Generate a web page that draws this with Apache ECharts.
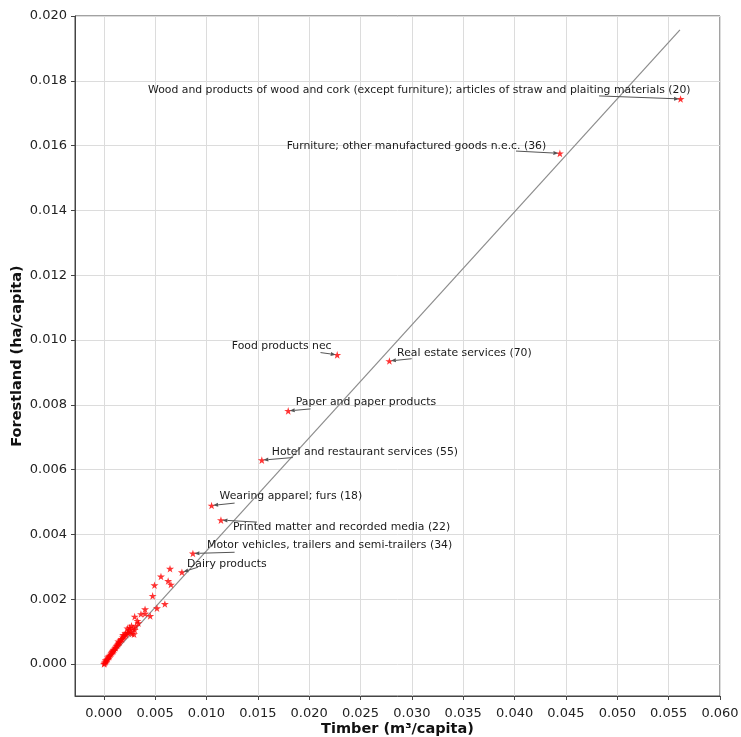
<!DOCTYPE html>
<html>
<head>
<meta charset="utf-8">
<script src="https://cdn.jsdelivr.net/npm/echarts@6/dist/echarts.min.js"></script>
<style>
  html, body { margin: 0; padding: 0; background: #fff; }
  #chart { width: 741px; height: 737px; }
</style>
</head>
<body>
<div id="chart"></div>
<script>
// Named sectors (timber m3/capita, forestland ha/capita)
const labeledNames = [
  'Wood and products of wood and cork (except furniture); articles of straw and plaiting materials (20)',
  'Furniture; other manufactured goods n.e.c. (36)',
  'Food products nec',
  'Real estate services (70)',
  'Paper and paper products',
  'Hotel and restaurant services (55)',
  'Wearing apparel; furs (18)',
  'Printed matter and recorded media (22)',
  'Motor vehicles, trailers and semi-trailers (34)',
  'Dairy products'
];
const labeledX = [0.05616, 0.04441, 0.02273, 0.02781, 0.01796, 0.01539, 0.01050, 0.01141, 0.00868, 0.00761];
const labeledY = [0.01744, 0.01576, 0.00954, 0.00935, 0.00781, 0.00629, 0.00489, 0.00444, 0.00341, 0.00283];

// Remaining sectors
const otherX = [
  0.00645, 0.00557, 0.00627, 0.00654, 0.00494, 0.00476, 0.00595, 0.00518, 0.00402, 0.00402,
  0.00362, 0.00452, 0.00301, 0.00328, 0.00337, 0.00311, 0.00295, 0.00260, 0.00285, 0.00301,
  0.00003, 0.00008, 0.00012, 0.00018, 0.00024, 0.00031, 0.00039, 0.00042, 0.00053, 0.00058,
  0.00066, 0.00075, 0.00081, 0.00088, 0.00095, 0.00102, 0.00110, 0.00117, 0.00124, 0.00131,
  0.00139, 0.00146, 0.00156, 0.00162, 0.00170, 0.00178, 0.00185, 0.00194, 0.00204, 0.00217,
  0.00229, 0.00236, 0.00275, 0.00020, 0.00050, 0.00093, 0.00142, 0.00188, 0.00210, 0.00245,
  0.00252, 0.00270, 0.00230
];
const otherY = [
  0.00294, 0.00270, 0.00256, 0.00245, 0.00243, 0.00210, 0.00185, 0.00172, 0.00169, 0.00155,
  0.00154, 0.00148, 0.00146, 0.00133, 0.00126, 0.00117, 0.00092, 0.00100, 0.00110, 0.00105,
  0.00000, 0.00002, 0.00005, 0.00007, 0.00011, 0.00013, 0.00015, 0.00020, 0.00022, 0.00026,
  0.00029, 0.00033, 0.00037, 0.00039, 0.00043, 0.00045, 0.00049, 0.00051, 0.00056, 0.00058,
  0.00062, 0.00065, 0.00067, 0.00073, 0.00076, 0.00077, 0.00082, 0.00085, 0.00088, 0.00090,
  0.00096, 0.00097, 0.00093, 0.00011, 0.00024, 0.00040, 0.00070, 0.00090, 0.00095, 0.00104,
  0.00112, 0.00118, 0.00110
];

// Reference line
const lineX = [0, 0.0561];
const lineY = [0, 0.01957];

// Tick labels
const xTicks = [0, 0.005, 0.010, 0.015, 0.020, 0.025, 0.030, 0.035, 0.040, 0.045, 0.050, 0.055, 0.060];
const yTicks = [0, 0.002, 0.004, 0.006, 0.008, 0.010, 0.012, 0.014, 0.016, 0.018, 0.020];

// Annotation placement in pixels relative to each named point:
// text = left/middle anchor of the caption, arrow = tail of the pointer
const annotLayout = [
  { text: [-532.5, -8.3], arrow: [-81.5, -3] },
  { text: [-273.2, -7.6], arrow: [-43.9, -2.3] },
  { text: [-105.4, -9], arrow: [-16.7, -2.3] },
  { text: [7.7, -8.3], arrow: [22.3, -2.3] },
  { text: [7.6, -8.3], arrow: [22.3, -2] },
  { text: [10, -8.3], arrow: [31, -2.6] },
  { text: [8, -9], arrow: [23, -2.4] },
  { text: [12, 6.7], arrow: [36, 2] },
  { text: [14.2, -8], arrow: [41.7, -1.2] },
  { text: [5, -8], arrow: [16, -5] }
];

const STAR = 'path://M50,0 L61,35 L98,35 L68,57 L79,91 L50,70 L21,91 L32,57 L2,35 L39,35 Z';
const FONT = 'DejaVu Sans';

const pointData = [];
for (let i = 0; i < otherX.length; i++) pointData.push([otherX[i], otherY[i]]);
for (let i = 0; i < labeledX.length; i++) pointData.push([labeledX[i], labeledY[i]]);

const annotData = labeledX.map((x, i) => [x, labeledY[i], i]);
const lineData = lineX.map((x, i) => [x, lineY[i]]);

const chart = echarts.init(document.getElementById('chart'), null, { renderer: 'canvas' });

const axisCommon = {
  type: 'value',
  axisLine: { show: true, onZero: false, lineStyle: { color: '#444', width: 1 } },
  splitLine: { show: true, lineStyle: { color: '#dcdcdc', width: 1 } },
  nameLocation: 'middle',
  nameMoveOverlap: false,
  nameTextStyle: { fontFamily: FONT, fontWeight: 'bold', fontSize: 14.5, color: '#111' }
};

chart.setOption({
  animation: false,
  backgroundColor: '#fff',
  grid: {
    left: 75, right: 21, top: 16, bottom: 41,
    outerBoundsMode: 'none',
    containLabel: false,
    show: true, borderColor: '#444', borderWidth: 1, backgroundColor: 'transparent'
  },
  xAxis: Object.assign({}, axisCommon, {
    min: -0.0028, max: 0.06,
    name: 'Timber (m³/capita)',
    nameGap: 26,
    axisTick: { show: true, length: 4, lineStyle: { color: '#444' }, customValues: xTicks },
    axisLabel: {
      customValues: xTicks, margin: 11,
      fontFamily: FONT, fontSize: 13, color: '#222',
      formatter: v => v.toFixed(3)
    }
  }),
  yAxis: Object.assign({}, axisCommon, {
    min: -0.00099, max: 0.02,
    name: 'Forestland (ha/capita)',
    nameGap: 50,
    axisTick: { show: true, length: 4, lineStyle: { color: '#444' }, customValues: yTicks },
    axisLabel: {
      customValues: yTicks, margin: 8,
      fontFamily: FONT, fontSize: 13, color: '#222',
      formatter: v => v.toFixed(3)
    }
  }),
  series: [
    {
      type: 'line',
      data: lineData,
      symbol: 'none',
      lineStyle: { color: '#8c8c8c', width: 1.2 },
      z: 2
    },
    {
      type: 'scatter',
      data: pointData,
      symbol: STAR,
      symbolKeepAspect: true,
      symbolSize: 8,
      itemStyle: { color: '#ff0000' },
      z: 3
    },
    {
      type: 'custom',
      data: annotData,
      z: 4,
      renderItem: function (params, api) {
        const idx = api.value(2);
        const p = api.coord([api.value(0), api.value(1)]);
        const lay = annotLayout[idx];
        const sx = p[0] + lay.arrow[0], sy = p[1] + lay.arrow[1];
        const ang = Math.atan2(p[1] - sy, p[0] - sx);
        const c = Math.cos(ang), s = Math.sin(ang);
        const tip = [p[0] - 1.5 * c, p[1] - 1.5 * s];
        const hl = 5, hw = 2;
        const base = [tip[0] - hl * c, tip[1] - hl * s];
        return {
          type: 'group',
          children: [
            {
              type: 'line',
              shape: { x1: sx, y1: sy, x2: base[0], y2: base[1] },
              style: { stroke: '#555', lineWidth: 1 }
            },
            {
              type: 'polygon',
              shape: { points: [tip, [base[0] - hw * s, base[1] + hw * c], [base[0] + hw * s, base[1] - hw * c]] },
              style: { fill: '#555' }
            },
            {
              type: 'text',
              style: {
                text: labeledNames[idx],
                x: p[0] + lay.text[0],
                y: p[1] + lay.text[1],
                align: 'left',
                verticalAlign: 'middle',
                fontFamily: FONT,
                fontSize: 10.85,
                fill: '#1a1a1a'
              }
            }
          ]
        };
      }
    }
  ]
});
</script>
</body>
</html>
